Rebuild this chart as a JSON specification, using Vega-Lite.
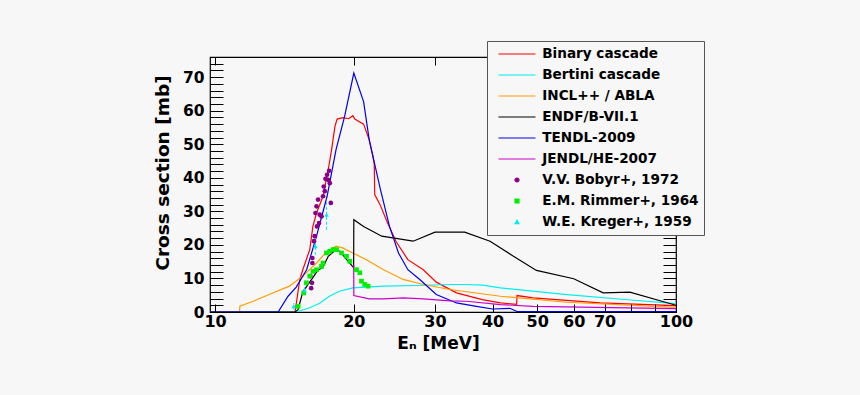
{
  "$schema": "https://vega.github.io/schema/vega-lite/v6.json",
  "width": 466,
  "height": 255,
  "autosize": {"type": "none"},
  "padding": {"left": 210, "top": 57, "right": 184, "bottom": 83},
  "background": "#f7f7f7",
  "config": {
    "view": {"stroke": "black", "strokeWidth": 1.2},
    "font": "DejaVu Sans",
    "legend": {"strokeWidth": 1},
    "axis": {"grid": false, "domain": false, "labelFont": "DejaVu Sans", "labelFontWeight": "bold", "labelColor": "black", "tickColor": "black", "tickWidth": 1, "titleFont": "DejaVu Sans", "titleFontWeight": "bold", "titleColor": "black"}
  },
  "resolve": {"axis": {"x": "independent", "y": "independent"}},
  "datasets": {
    "lines": [
      {"s": "Binary cascade", "E": 9.75, "v": 0}, {"s": "Binary cascade", "E": 14.9, "v": 0}, {"s": "Binary cascade", "E": 14.96, "v": 1.3}, {"s": "Binary cascade", "E": 15.27, "v": 9.7}, {"s": "Binary cascade", "E": 15.5, "v": 12.6}, {"s": "Binary cascade", "E": 16.05, "v": 18.6}, {"s": "Binary cascade", "E": 16.3, "v": 25.5}, {"s": "Binary cascade", "E": 16.6, "v": 29.5}, {"s": "Binary cascade", "E": 17.15, "v": 34.5}, {"s": "Binary cascade", "E": 17.6, "v": 42.4}, {"s": "Binary cascade", "E": 17.9, "v": 48.4}, {"s": "Binary cascade", "E": 18.2, "v": 55.3}, {"s": "Binary cascade", "E": 18.4, "v": 57.5}, {"s": "Binary cascade", "E": 18.95, "v": 57.9}, {"s": "Binary cascade", "E": 19.5, "v": 57.6}, {"s": "Binary cascade", "E": 19.9, "v": 58.5}, {"s": "Binary cascade", "E": 20.1, "v": 57.5}, {"s": "Binary cascade", "E": 21.0, "v": 56.0}, {"s": "Binary cascade", "E": 21.6, "v": 51.3}, {"s": "Binary cascade", "E": 22.0, "v": 46.4}, {"s": "Binary cascade", "E": 22.15, "v": 44.0}, {"s": "Binary cascade", "E": 22.2, "v": 35.0}, {"s": "Binary cascade", "E": 22.8, "v": 32.0}, {"s": "Binary cascade", "E": 23.6, "v": 27.0}, {"s": "Binary cascade", "E": 24.7, "v": 21.0}, {"s": "Binary cascade", "E": 26.2, "v": 15.6}, {"s": "Binary cascade", "E": 28.3, "v": 12.6}, {"s": "Binary cascade", "E": 30.2, "v": 8.9}, {"s": "Binary cascade", "E": 33.4, "v": 5.7}, {"s": "Binary cascade", "E": 38.0, "v": 3.7}, {"s": "Binary cascade", "E": 41.6, "v": 2.7}, {"s": "Binary cascade", "E": 45.1, "v": 2.3}, {"s": "Binary cascade", "E": 45.2, "v": 4.9}, {"s": "Binary cascade", "E": 49.0, "v": 4.2}, {"s": "Binary cascade", "E": 68.5, "v": 2.7}, {"s": "Binary cascade", "E": 100, "v": 1.9},
      {"s": "Bertini cascade", "E": 9.75, "v": 0}, {"s": "Bertini cascade", "E": 15.0, "v": 0}, {"s": "Bertini cascade", "E": 16.0, "v": 1.2}, {"s": "Bertini cascade", "E": 16.9, "v": 2.7}, {"s": "Bertini cascade", "E": 17.7, "v": 4.7}, {"s": "Bertini cascade", "E": 18.6, "v": 6.2}, {"s": "Bertini cascade", "E": 19.9, "v": 7.2}, {"s": "Bertini cascade", "E": 23.2, "v": 7.7}, {"s": "Bertini cascade", "E": 27.4, "v": 7.9}, {"s": "Bertini cascade", "E": 32.3, "v": 8.2}, {"s": "Bertini cascade", "E": 35.1, "v": 8.2}, {"s": "Bertini cascade", "E": 38.1, "v": 8.0}, {"s": "Bertini cascade", "E": 41.6, "v": 7.2}, {"s": "Bertini cascade", "E": 58.0, "v": 5.2}, {"s": "Bertini cascade", "E": 81.0, "v": 3.5}, {"s": "Bertini cascade", "E": 100, "v": 2.5},
      {"s": "INCL++ / ABLA", "E": 9.75, "v": 0}, {"s": "INCL++ / ABLA", "E": 11.3, "v": 0}, {"s": "INCL++ / ABLA", "E": 11.32, "v": 1.7}, {"s": "INCL++ / ABLA", "E": 12.1, "v": 3.2}, {"s": "INCL++ / ABLA", "E": 13.1, "v": 5.2}, {"s": "INCL++ / ABLA", "E": 14.5, "v": 7.7}, {"s": "INCL++ / ABLA", "E": 15.5, "v": 10.7}, {"s": "INCL++ / ABLA", "E": 16.6, "v": 14.6}, {"s": "INCL++ / ABLA", "E": 17.5, "v": 18.1}, {"s": "INCL++ / ABLA", "E": 18.3, "v": 19.6}, {"s": "INCL++ / ABLA", "E": 18.9, "v": 19.1}, {"s": "INCL++ / ABLA", "E": 19.9, "v": 17.6}, {"s": "INCL++ / ABLA", "E": 21.3, "v": 15.6}, {"s": "INCL++ / ABLA", "E": 23.2, "v": 12.6}, {"s": "INCL++ / ABLA", "E": 25.6, "v": 9.7}, {"s": "INCL++ / ABLA", "E": 28.3, "v": 8.2}, {"s": "INCL++ / ABLA", "E": 32.3, "v": 6.7}, {"s": "INCL++ / ABLA", "E": 41.6, "v": 4.7}, {"s": "INCL++ / ABLA", "E": 58.0, "v": 2.9}, {"s": "INCL++ / ABLA", "E": 100, "v": 1.4},
      {"s": "ENDF/B-VII.1", "E": 9.75, "v": 0}, {"s": "ENDF/B-VII.1", "E": 14.9, "v": 0}, {"s": "ENDF/B-VII.1", "E": 15.14, "v": 0.7}, {"s": "ENDF/B-VII.1", "E": 15.5, "v": 6.0}, {"s": "ENDF/B-VII.1", "E": 16.2, "v": 9.7}, {"s": "ENDF/B-VII.1", "E": 16.7, "v": 12.4}, {"s": "ENDF/B-VII.1", "E": 17.15, "v": 13.4}, {"s": "ENDF/B-VII.1", "E": 17.6, "v": 16.6}, {"s": "ENDF/B-VII.1", "E": 18.2, "v": 18.3}, {"s": "ENDF/B-VII.1", "E": 18.65, "v": 18.1}, {"s": "ENDF/B-VII.1", "E": 19.3, "v": 15.6}, {"s": "ENDF/B-VII.1", "E": 19.98, "v": 13.2}, {"s": "ENDF/B-VII.1", "E": 20.0, "v": 27.5}, {"s": "ENDF/B-VII.1", "E": 21.0, "v": 25.5}, {"s": "ENDF/B-VII.1", "E": 23.0, "v": 22.6}, {"s": "ENDF/B-VII.1", "E": 26.9, "v": 21.1}, {"s": "ENDF/B-VII.1", "E": 30.0, "v": 23.8}, {"s": "ENDF/B-VII.1", "E": 34.8, "v": 23.8}, {"s": "ENDF/B-VII.1", "E": 39.5, "v": 21.1}, {"s": "ENDF/B-VII.1", "E": 44.4, "v": 16.6}, {"s": "ENDF/B-VII.1", "E": 49.8, "v": 12.4}, {"s": "ENDF/B-VII.1", "E": 60.0, "v": 9.9}, {"s": "ENDF/B-VII.1", "E": 69.5, "v": 5.7}, {"s": "ENDF/B-VII.1", "E": 79.4, "v": 5.9}, {"s": "ENDF/B-VII.1", "E": 100, "v": 2.0},
      {"s": "TENDL-2009", "E": 9.75, "v": 0}, {"s": "TENDL-2009", "E": 13.7, "v": 0}, {"s": "TENDL-2009", "E": 14.4, "v": 4.7}, {"s": "TENDL-2009", "E": 15.0, "v": 7.4}, {"s": "TENDL-2009", "E": 15.8, "v": 12.6}, {"s": "TENDL-2009", "E": 16.6, "v": 22.6}, {"s": "TENDL-2009", "E": 17.5, "v": 34.5}, {"s": "TENDL-2009", "E": 18.3, "v": 48.4}, {"s": "TENDL-2009", "E": 19.1, "v": 58.3}, {"s": "TENDL-2009", "E": 20.0, "v": 71.2}, {"s": "TENDL-2009", "E": 21.0, "v": 62.7}, {"s": "TENDL-2009", "E": 21.6, "v": 51.3}, {"s": "TENDL-2009", "E": 22.8, "v": 37.0}, {"s": "TENDL-2009", "E": 23.9, "v": 25.5}, {"s": "TENDL-2009", "E": 25.0, "v": 17.6}, {"s": "TENDL-2009", "E": 26.2, "v": 12.6}, {"s": "TENDL-2009", "E": 27.8, "v": 9.7}, {"s": "TENDL-2009", "E": 30.2, "v": 5.2}, {"s": "TENDL-2009", "E": 33.4, "v": 2.7}, {"s": "TENDL-2009", "E": 36.9, "v": 1.7}, {"s": "TENDL-2009", "E": 40.0, "v": 0.9}, {"s": "TENDL-2009", "E": 43.6, "v": 1.1}, {"s": "TENDL-2009", "E": 45.2, "v": 0.15}, {"s": "TENDL-2009", "E": 100, "v": 0.15},
      {"s": "JENDL/HE-2007", "E": 19.99, "v": 14.0}, {"s": "JENDL/HE-2007", "E": 20.0, "v": 4.9}, {"s": "JENDL/HE-2007", "E": 21.6, "v": 3.9}, {"s": "JENDL/HE-2007", "E": 23.2, "v": 3.9}, {"s": "JENDL/HE-2007", "E": 25.6, "v": 4.2}, {"s": "JENDL/HE-2007", "E": 28.3, "v": 3.9}, {"s": "JENDL/HE-2007", "E": 32.3, "v": 3.3}, {"s": "JENDL/HE-2007", "E": 35.1, "v": 3.2}, {"s": "JENDL/HE-2007", "E": 41.6, "v": 2.2}, {"s": "JENDL/HE-2007", "E": 49.0, "v": 1.7}, {"s": "JENDL/HE-2007", "E": 100, "v": 1.0}
    ],
    "pts": [
      {"s": "V.V. Bobyr+, 1972", "E": 17.68, "v": 42.1}, {"s": "V.V. Bobyr+, 1972", "E": 17.5, "v": 40.9}, {"s": "V.V. Bobyr+, 1972", "E": 17.36, "v": 39.7}, {"s": "V.V. Bobyr+, 1972", "E": 17.59, "v": 39.4}, {"s": "V.V. Bobyr+, 1972", "E": 17.21, "v": 37.4}, {"s": "V.V. Bobyr+, 1972", "E": 17.74, "v": 38.4}, {"s": "V.V. Bobyr+, 1972", "E": 17.3, "v": 36.0}, {"s": "V.V. Bobyr+, 1972", "E": 17.15, "v": 34.5}, {"s": "V.V. Bobyr+, 1972", "E": 17.83, "v": 32.5}, {"s": "V.V. Bobyr+, 1972", "E": 16.73, "v": 33.5}, {"s": "V.V. Bobyr+, 1972", "E": 16.6, "v": 31.5}, {"s": "V.V. Bobyr+, 1972", "E": 16.51, "v": 29.5}, {"s": "V.V. Bobyr+, 1972", "E": 16.87, "v": 29.0}, {"s": "V.V. Bobyr+, 1972", "E": 17.02, "v": 28.5}, {"s": "V.V. Bobyr+, 1972", "E": 16.81, "v": 26.5}, {"s": "V.V. Bobyr+, 1972", "E": 16.64, "v": 25.5}, {"s": "V.V. Bobyr+, 1972", "E": 16.45, "v": 22.6}, {"s": "V.V. Bobyr+, 1972", "E": 16.39, "v": 21.1}, {"s": "V.V. Bobyr+, 1972", "E": 16.26, "v": 16.1}, {"s": "V.V. Bobyr+, 1972", "E": 16.26, "v": 14.6}, {"s": "V.V. Bobyr+, 1972", "E": 16.1, "v": 10.7}, {"s": "V.V. Bobyr+, 1972", "E": 16.23, "v": 8.7}, {"s": "V.V. Bobyr+, 1972", "E": 16.16, "v": 7.1},
      {"s": "E.M. Rimmer+, 1964", "E": 15.14, "v": 1.7}, {"s": "E.M. Rimmer+, 1964", "E": 15.57, "v": 5.7}, {"s": "E.M. Rimmer+, 1964", "E": 15.78, "v": 8.7}, {"s": "E.M. Rimmer+, 1964", "E": 16.05, "v": 10.7}, {"s": "E.M. Rimmer+, 1964", "E": 16.31, "v": 12.1}, {"s": "E.M. Rimmer+, 1964", "E": 16.6, "v": 12.6}, {"s": "E.M. Rimmer+, 1964", "E": 17.02, "v": 13.6}, {"s": "E.M. Rimmer+, 1964", "E": 17.15, "v": 14.6}, {"s": "E.M. Rimmer+, 1964", "E": 17.45, "v": 17.6}, {"s": "E.M. Rimmer+, 1964", "E": 17.74, "v": 18.1}, {"s": "E.M. Rimmer+, 1964", "E": 18.04, "v": 18.6}, {"s": "E.M. Rimmer+, 1964", "E": 18.35, "v": 18.6}, {"s": "E.M. Rimmer+, 1964", "E": 18.81, "v": 17.6}, {"s": "E.M. Rimmer+, 1964", "E": 19.28, "v": 16.6}, {"s": "E.M. Rimmer+, 1964", "E": 19.6, "v": 15.1}, {"s": "E.M. Rimmer+, 1964", "E": 20.27, "v": 12.6}, {"s": "E.M. Rimmer+, 1964", "E": 20.61, "v": 11.7}, {"s": "E.M. Rimmer+, 1964", "E": 20.78, "v": 9.2}, {"s": "E.M. Rimmer+, 1964", "E": 21.13, "v": 8.2}, {"s": "E.M. Rimmer+, 1964", "E": 21.48, "v": 7.7},
      {"s": "W.E. Kreger+, 1959", "E": 14.82, "v": 1.7, "lo": 0.7, "hi": 2.7}, {"s": "W.E. Kreger+, 1959", "E": 15.65, "v": 6.5, "lo": 5.0, "hi": 8.0}, {"s": "W.E. Kreger+, 1959", "E": 16.5, "v": 19.6, "lo": 17.0, "hi": 22.5}, {"s": "W.E. Kreger+, 1959", "E": 17.45, "v": 29.0, "lo": 24.5, "hi": 33.5}
    ],
    "ax": [{"E": 10, "v": 0}]
  },
  "layer": [
    {
      "data": {"name": "lines"},
      "mark": {"type": "line", "strokeWidth": 1.2, "clip": true},
      "encoding": {
        "x": {"field": "E", "type": "quantitative", "scale": {"type": "log", "domain": [9.75, 100], "nice": false}, "axis": null},
        "y": {"field": "v", "type": "quantitative", "scale": {"domain": [0, 76], "nice": false, "zero": false}, "axis": null},
        "color": {
          "field": "s", "type": "nominal",
          "scale": {
            "domain": ["Binary cascade", "Bertini cascade", "INCL++ / ABLA", "ENDF/B-VII.1", "TENDL-2009", "JENDL/HE-2007", "V.V. Bobyr+, 1972", "E.M. Rimmer+, 1964", "W.E. Kreger+, 1959"],
            "range": ["#ff0000", "#00eeee", "#ff9c00", "#000000", "#0000ee", "#cc00cc", "#880088", "#00ee00", "#00eeee"]
          },
          "legend": {
            "title": null,
            "orient": "none",
            "legendX": 277,
            "legendY": -16,
            "zindex": 3,
            "direction": "vertical",
            "padding": 5,
            "fillColor": "#f7f7f7",
            "strokeColor": "#555555",
            "labelFont": "DejaVu Sans",
            "labelFontWeight": "bold",
            "labelFontSize": 13.6,
            "labelColor": "black",
            "labelLimit": 300,
            "symbolType": "stroke",
            "symbolSize": 1369,
            "symbolStrokeWidth": 1.2,
            "symbolOffset": 5.5,
            "labelOffset": 5.7,
            "clipHeight": 16,
            "rowPadding": 5.0,
            "encode": {
              "symbols": {
                "update": {
                  "shape": {"signal": "datum.value === 'V.V. Bobyr+, 1972' ? 'circle' : datum.value === 'E.M. Rimmer+, 1964' ? 'square' : datum.value === 'W.E. Kreger+, 1959' ? 'triangle-up' : 'stroke'"},
                  "size": {"signal": "indexof(['V.V. Bobyr+, 1972','E.M. Rimmer+, 1964','W.E. Kreger+, 1959'], datum.value) >= 0 ? 16 : 1369"},
                  "fill": {"signal": "indexof(['V.V. Bobyr+, 1972','E.M. Rimmer+, 1964','W.E. Kreger+, 1959'], datum.value) >= 0 ? scale('color', datum.value) : 'transparent'"},
                  "stroke": {"signal": "indexof(['V.V. Bobyr+, 1972','E.M. Rimmer+, 1964','W.E. Kreger+, 1959'], datum.value) >= 0 ? 'transparent' : scale('color', datum.value)"},
                  "strokeWidth": {"value": 1.2},
                  "opacity": {"value": 1}
                }
              }
            }
          }
        }
      }
    },
    {
      "data": {"name": "pts"},
      "transform": [{"filter": "isValid(datum.lo)"}],
      "mark": {"type": "rule", "strokeWidth": 1, "strokeDash": [3, 2], "color": "#00eeee"},
      "encoding": {
        "x": {"field": "E", "type": "quantitative", "scale": {"type": "log", "domain": [9.75, 100], "nice": false}, "axis": null},
        "y": {"field": "lo", "type": "quantitative", "scale": {"domain": [0, 76], "nice": false, "zero": false}, "axis": null},
        "y2": {"field": "hi"}
      }
    },
    {
      "data": {"name": "pts"},
      "mark": {"type": "point", "filled": true, "size": 22, "opacity": 1},
      "encoding": {
        "x": {"field": "E", "type": "quantitative", "scale": {"type": "log", "domain": [9.75, 100], "nice": false}, "axis": null},
        "y": {"field": "v", "type": "quantitative", "scale": {"domain": [0, 76], "nice": false, "zero": false}, "axis": null},
        "color": {"field": "s", "type": "nominal"},
        "shape": {"field": "s", "type": "nominal", "scale": {"domain": ["V.V. Bobyr+, 1972", "E.M. Rimmer+, 1964", "W.E. Kreger+, 1959"], "range": ["circle", "square", "triangle-up"]}, "legend": null}
      }
    },
    {
      "data": {"name": "ax"},
      "mark": {"type": "point", "opacity": 0},
      "encoding": {
        "x": {"field": "E", "type": "quantitative", "scale": {"type": "log", "domain": [9.75, 100], "nice": false},
              "axis": {"orient": "bottom", "values": [10, 20, 30, 40, 50, 60, 70, 80, 90, 100], "format": "d", "tickSize": -8, "labelExpr": "datum.value === 80 || datum.value === 90 ? '' : datum.label", "labelFontSize": 16, "labelPadding": 9, "labelFlush": false, "labelOverlap": false, "labelAngle": 0, "zindex": 1,
                       "encode": {"ticks": {"update": {"y2": {"signal": "datum.value === 10 || datum.value === 100 ? -8 : -4.5"}}}},
                       "title": "Eₙ  [MeV]", "titleFontSize": 17, "titleX": 228, "titleY": 36, "titleAlign": "center", "titleBaseline": "alphabetic"}},
        "y": {"field": "v", "type": "quantitative", "scale": {"domain": [0, 76], "nice": false, "zero": false},
              "axis": {"orient": "left", "values": [0, 2, 4, 6, 8, 10, 12, 14, 16, 18, 20, 22, 24, 26, 28, 30, 32, 34, 36, 38, 40, 42, 44, 46, 48, 50, 52, 54, 56, 58, 60, 62, 64, 66, 68, 70, 72, 74], "format": "d", "tickSize": -13, "labelExpr": "datum.value % 10 === 0 ? datum.label : ''", "labelFontSize": 15.5, "labelPadding": 19, "labelFlush": false, "labelOverlap": false, "zindex": 1,
                       "encode": {"ticks": {"update": {"x2": {"signal": "datum.value % 10 === 0 ? 13 : 6"}}}},
                       "title": "Cross section  [mb]", "titleFontSize": 18.5, "titleX": -48, "titleY": 115.5, "titleAngle": -90, "titleAlign": "center", "titleBaseline": "middle"}}
      }
    },
    {
      "data": {"name": "ax"},
      "mark": {"type": "point", "opacity": 0},
      "encoding": {
        "x": {"field": "E", "type": "quantitative", "scale": {"type": "log", "domain": [9.75, 100], "nice": false},
              "axis": {"orient": "top", "values": [10, 20, 30, 40, 50, 60, 70, 80, 90, 100], "tickSize": -8, "labels": false, "title": null, "zindex": 0,
                       "encode": {"ticks": {"update": {"y2": {"signal": "datum.value === 10 || datum.value === 100 ? 8 : 4"}}}}}},
        "y": {"field": "v", "type": "quantitative", "scale": {"domain": [0, 76], "nice": false, "zero": false},
              "axis": {"orient": "right", "values": [0, 2, 4, 6, 8, 10, 12, 14, 16, 18, 20, 22, 24, 26, 28, 30, 32, 34, 36, 38, 40, 42, 44, 46, 48, 50, 52, 54, 56, 58, 60, 62, 64, 66, 68, 70, 72, 74], "tickSize": -13, "labels": false, "title": null, "zindex": 0,
                       "encode": {"ticks": {"update": {"x2": {"signal": "datum.value % 10 === 0 ? -13 : -6"}}}}}}
      }
    }
  ]
}
